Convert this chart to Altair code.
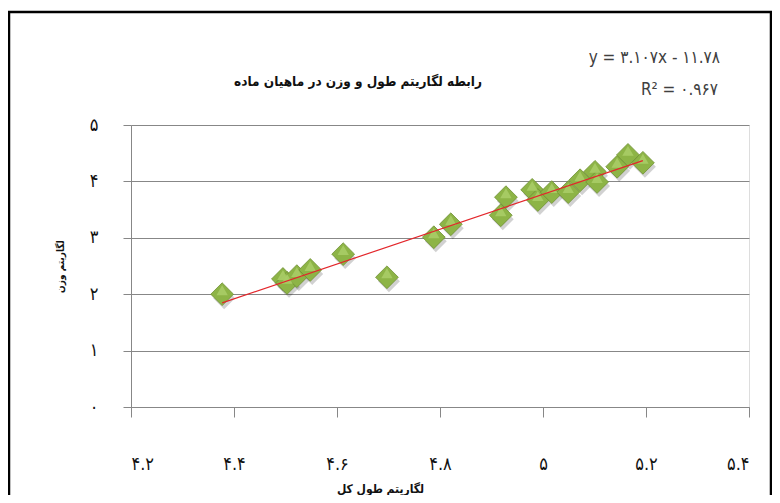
import altair as alt
import pandas as pd

# Data (log total length vs log weight)
log_length = [4.377, 4.495, 4.503, 4.522, 4.548, 4.612, 4.697, 4.788, 4.821, 4.918, 4.928,
              4.979, 4.990, 5.017, 5.049, 5.072, 5.101, 5.105, 5.144, 5.165, 5.194]
log_weight = [2.00, 2.27, 2.20, 2.32, 2.43, 2.71, 2.30, 3.01, 3.24, 3.40, 3.72,
              3.85, 3.67, 3.81, 3.81, 4.02, 4.17, 3.99, 4.26, 4.47, 4.33]

x_ticks = [4.2, 4.4, 4.6, 4.8, 5.0, 5.2, 5.4]
y_ticks = [0, 1, 2, 3, 4, 5]

title_text = "رابطه لگاریتم طول و وزن در ماهیان ماده"
x_title = "لگاریتم طول کل"
y_title = "لگاریتم وزن"
equation_line1 = "y = ۳.۱۰۷x - ۱۱.۷۸"
equation_line2 = "R² = ۰.۹۶۷"

df = pd.DataFrame({"x": log_length, "y": log_weight})

persian = "۰۱۲۳۴۵۶۷۸۹"
label_expr = "datum.label"
for d, p in zip("0123456789", persian):
    label_expr = f"replace({label_expr}, regexp('{d}', 'g'), '{p}')"

CFONT = "DejaVu Sans Condensed, DejaVu Sans"
GRAY = "#878787"

x_enc = alt.X("x:Q", scale=alt.Scale(domain=[4.2, 5.4], nice=False, zero=False),
              axis=alt.Axis(values=x_ticks, format="~g", labelExpr=label_expr, title=x_title,
                            grid=False, domainColor=GRAY, tickColor=GRAY, tickSize=10,
                            labelPadding=38, labelFontSize=18, labelFont=CFONT,
                            labelColor="#111111",
                            titleFont=CFONT, titleFontSize=12, titleFontWeight="bold",
                            titleX=249, titleY=81, titleBaseline="middle",
                            titleAlign="center", titleColor="#111111"))
y_enc = alt.Y("y:Q", scale=alt.Scale(domain=[0, 5], nice=False),
              axis=alt.Axis(values=y_ticks, format="~g", labelExpr=label_expr, title=y_title,
                            grid=True, gridColor=GRAY, domainColor=GRAY, tickColor=GRAY,
                            tickSize=8, labelPadding=25, labelFontSize=18, labelFont=CFONT,
                            labelColor="#111111",
                            titleFont=CFONT, titleFontSize=10, titleFontWeight="bold",
                            titleAngle=-90, titleX=-71, titleY=141,
                            titleBaseline="middle", titleAlign="center",
                            titleColor="#111111"))

base = alt.Chart(df)

shadow = base.mark_point(shape="diamond", filled=True, size=480, color="#000000",
                         opacity=0.18, xOffset=2, yOffset=4).encode(x=x_enc, y=y_enc)
points = base.mark_point(shape="diamond", filled=True, size=520, fill="#8DB446",
                         stroke="#6F8F33", strokeWidth=0.8, opacity=1).encode(x=x_enc, y=y_enc)
highlight = base.mark_point(shape="triangle-up", filled=True, size=130, fill="#A8CC66",
                            opacity=0.9, yOffset=-4).encode(x=x_enc, y=y_enc)

trend = base.transform_regression("x", "y").mark_line(
    color="#E3262B", strokeWidth=1.2).encode(x=x_enc, y=y_enc)

text_df = pd.DataFrame({"a": [0]})
eq1 = alt.Chart(text_df).mark_text(
    align="right", baseline="middle", fontSize=17, font=CFONT, color="#404040",
    text=equation_line1
).encode(x=alt.value(589), y=alt.value(-67))
eq2 = alt.Chart(text_df).mark_text(
    align="right", baseline="middle", fontSize=17, font=CFONT, color="#404040",
    text=equation_line2
).encode(x=alt.value(587), y=alt.value(-35))
title = alt.Chart(text_df).mark_text(
    align="center", baseline="middle", fontSize=13.5, font=CFONT, fontWeight="bold",
    color="#111111", text=title_text
).encode(x=alt.value(227), y=alt.value(-43))

frame = alt.Chart(text_df).mark_rect(
    fill=None, stroke="#000000", strokeWidth=2.5
).encode(x=alt.value(-122), x2=alt.value(640), y=alt.value(-113), y2=alt.value(380))

chart = alt.layer(frame, shadow, points, highlight, trend, eq1, eq2, title).properties(
    width=618, height=282,
    padding={"left": 123, "top": 117, "right": 23, "bottom": 88},
    autosize=alt.AutoSizeParams(type="none"),
).configure_view(stroke=None).configure(background="white")

chart.save("out.html", embed_options={"renderer": "svg", "actions": False})
